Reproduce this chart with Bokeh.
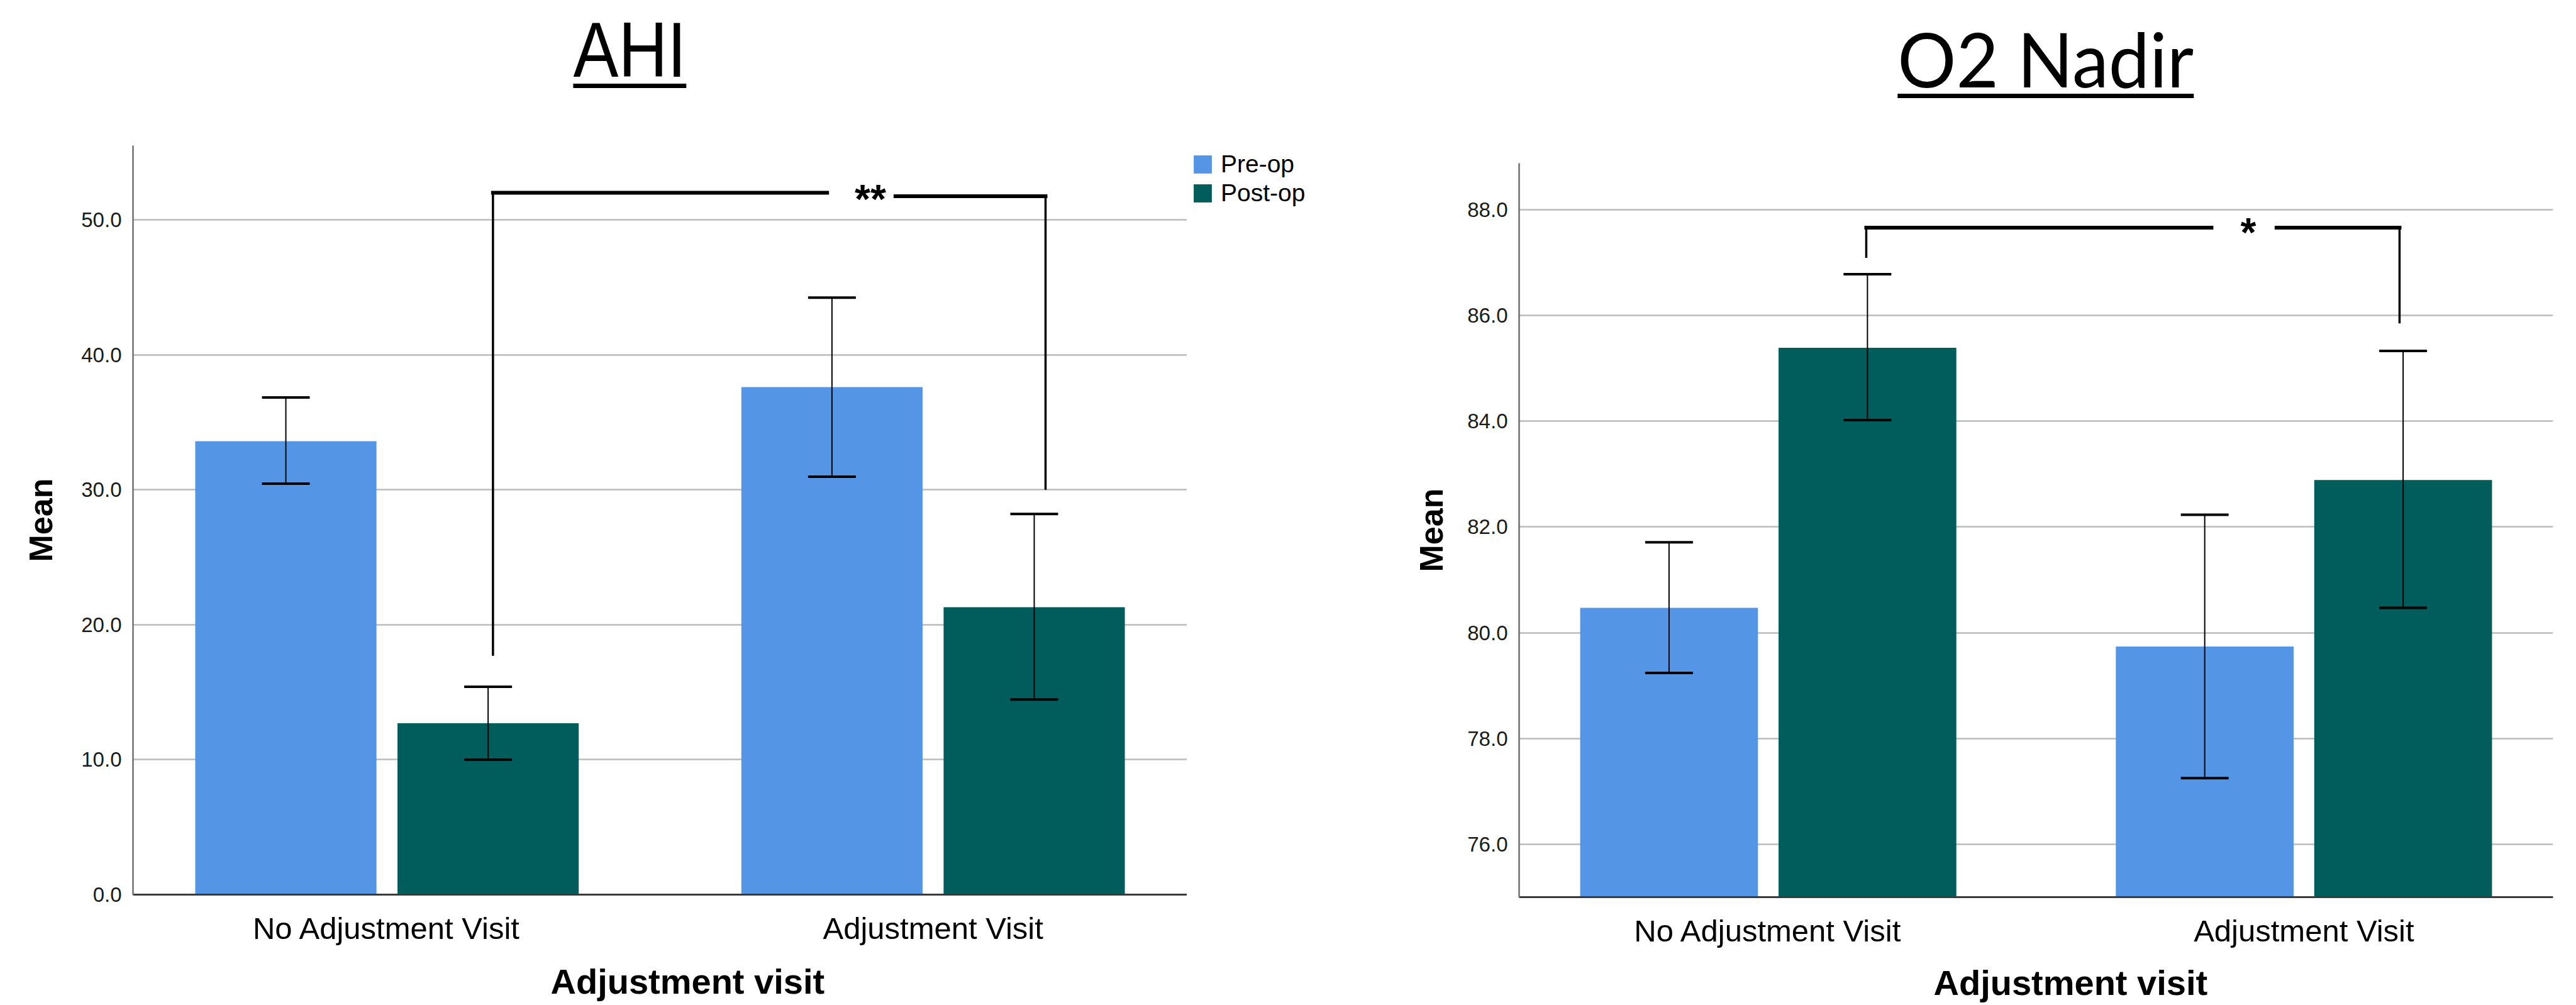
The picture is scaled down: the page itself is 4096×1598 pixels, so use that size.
from bokeh.plotting import figure
from bokeh.models import (FactorRange, Range1d, ColumnDataSource, Whisker, TeeHead,
                          Legend, LegendItem, FixedTicker, PrintfTickFormatter, Div, Title)
from bokeh.layouts import row, column
from bokeh.transform import dodge
from bokeh.embed import file_html
from bokeh.resources import INLINE
from bokeh.core.properties import value

# ---------------- data ----------------
categories = ["No Adjustment Visit", "Adjustment Visit"]
series = ["Pre-op", "Post-op"]

ahi_pre = [33.6, 37.6]
ahi_pre_lower = [30.45, 30.97]
ahi_pre_upper = [36.84, 44.24]
ahi_post = [12.7, 21.3]
ahi_post_lower = [10.0, 14.46]
ahi_post_upper = [15.4, 28.2]
ahi_ticks = [0, 10, 20, 30, 40, 50]

o2_pre = [80.47, 79.74]
o2_pre_lower = [79.24, 77.25]
o2_pre_upper = [81.71, 82.23]
o2_post = [85.39, 82.89]
o2_post_lower = [84.02, 80.47]
o2_post_upper = [86.78, 85.33]
o2_ticks = [76, 78, 80, 82, 84, 86, 88]

# significance brackets: left foot, left top, right top, right foot
ahi_sig = [17.7, 52.0, 51.75, 30.0]
ahi_sig_label = "**"
o2_sig = [87.09, 87.66, 87.66, 85.85]
o2_sig_label = "*"

BLUE = "#5595E5"
TEAL = "#015D5B"
FONT = "Liberation Sans"


def make_chart(pre, pre_lo, pre_hi, post, post_lo, post_hi, ticks, y0, y1,
               fw, fh, bl, br, bt, bb, sig, sig_label, sig_x, sig_tx,
               ylabel_standoff, xlabel_offset, xlabel_standoff):
    src = ColumnDataSource(dict(cat=categories, pre=pre, pre_lo=pre_lo, pre_hi=pre_hi,
                                post=post, post_lo=post_lo, post_hi=post_hi))
    p = figure(x_range=FactorRange(factors=categories, factor_padding=0.35, range_padding=0.1088),
               y_range=Range1d(y0, y1), frame_width=fw, frame_height=fh,
               min_border_left=bl, min_border_right=br, min_border_top=bt, min_border_bottom=bb,
               output_backend="svg", toolbar_location=None)
    p.background_fill_color = "white"
    p.border_fill_color = "white"
    p.outline_line_color = None

    p.vbar(x=dodge("cat", -0.25, range=p.x_range), top="pre", bottom=y0, width=0.448,
           source=src, fill_color=BLUE, line_color=None)
    p.vbar(x=dodge("cat", 0.25, range=p.x_range), top="post", bottom=y0, width=0.448,
           source=src, fill_color=TEAL, line_color=None)

    for key, off in (("pre", -0.25), ("post", 0.25)):
        w = Whisker(source=src, base=dodge("cat", off, range=p.x_range),
                    upper=key + "_hi", lower=key + "_lo",
                    line_color="black", line_width=2,
                    upper_head=TeeHead(size=76, line_width=4, line_color="black"),
                    lower_head=TeeHead(size=76, line_width=4, line_color="black"),
                    level="annotation")
        p.add_layout(w)

    # significance bracket
    A, B = categories
    oa, gl, gr, ob = sig_x
    fa, ta, tb, fb = sig
    vsrc = ColumnDataSource(dict(x0=[[A, oa], [B, ob]], y0=[fa, fb],
                                 x1=[[A, oa], [B, ob]], y1=[ta, tb]))
    p.segment(x0="x0", y0="y0", x1="x1", y1="y1", source=vsrc,
              line_color="black", line_width=3.5)
    hsrc = ColumnDataSource(dict(x0=[[A, oa], [B, gr]], y0=[ta, tb],
                                 x1=[[B, gl], [B, ob]], y1=[ta, tb]))
    p.segment(x0="x0", y0="y0", x1="x1", y1="y1", source=hsrc,
              line_color="black", line_width=6, line_cap="square")
    tsrc = ColumnDataSource(dict(x=[[B, sig_tx]], y=[(ta + tb) / 2], t=[sig_label]))
    p.text(x="x", y="y", text="t", source=tsrc, text_font=value(FONT),
           text_font_style="bold", text_font_size="64px", text_align="center",
           text_baseline="alphabetic", y_offset=8, text_color="black")

    # axes
    p.xgrid.grid_line_color = None
    p.ygrid.grid_line_color = "#bcbcbc"
    p.ygrid.grid_line_width = 2.5

    xa = p.xaxis[0]
    xa.major_tick_line_color = None
    xa.minor_tick_line_color = None
    xa.major_tick_out = 0
    xa.major_tick_in = 0
    xa.axis_line_color = "#3a3a3a"
    xa.axis_line_width = 3
    xa.major_label_text_font = FONT
    xa.major_label_text_font_size = "49px"
    xa.major_label_text_color = "black"
    xa.major_label_standoff = 26

    p.add_layout(Title(text="Adjustment visit", align="left", offset=xlabel_offset,
                       standoff=xlabel_standoff, vertical_align="bottom",
                       text_font=FONT, text_font_style="bold", text_font_size="56px",
                       text_color="black"), "below")

    ya = p.yaxis[0]
    ya.ticker = FixedTicker(ticks=ticks)
    ya.formatter = PrintfTickFormatter(format="%.1f")
    ya.major_tick_line_color = None
    ya.minor_tick_line_color = None
    ya.major_tick_out = 0
    ya.major_tick_in = 0
    ya.axis_line_color = "#707070"
    ya.axis_line_width = 2.5
    ya.major_label_text_font = FONT
    ya.major_label_text_font_size = "33px"
    ya.major_label_text_color = "#1a1a1a"
    ya.major_label_standoff = 18
    ya.axis_label = "Mean"
    ya.axis_label_text_font = FONT
    ya.axis_label_text_font_style = "bold"
    ya.axis_label_text_font_size = "52px"
    ya.axis_label_text_color = "black"
    ya.axis_label_standoff = ylabel_standoff
    return p


left = make_chart(ahi_pre, ahi_pre_lower, ahi_pre_upper, ahi_post, ahi_post_lower,
                  ahi_post_upper, ahi_ticks, 0, 55.5, 1676, 1191, 211, 0, 63, 160,
                  ahi_sig, ahi_sig_label, (0.262, -0.262, -0.093, 0.278), -0.155,
                  32, 664, 42)
right = make_chart(o2_pre, o2_pre_lower, o2_pre_upper, o2_post, o2_post_lower,
                   o2_post_upper, o2_ticks, 75, 88.88, 1644, 1167, 268, 19, 91, 156,
                   o2_sig, o2_sig_label, (0.247, -0.233, -0.069, 0.241), -0.14,
                   25, 659, 38)

# legend panel (beside the AHI chart); its swatch bars sit outside the visible range
lg = figure(width=260, height=1414, x_range=Range1d(0, 1), y_range=Range1d(0, 1),
            min_border_left=0, min_border_top=63, min_border_right=0, min_border_bottom=0,
            x_axis_location=None, y_axis_location=None,
            output_backend="svg", toolbar_location=None)
lg.grid.visible = False
lg.outline_line_color = None
lsrc = ColumnDataSource(dict(x=[5.0], top=[5.0]))
lr_pre = lg.vbar(x="x", top="top", bottom=4.0, width=0.1, source=lsrc,
                 fill_color=BLUE, line_color=None)
lr_post = lg.vbar(x="x", top="top", bottom=4.0, width=0.1, source=lsrc,
                  fill_color=TEAL, line_color=None)
legend = Legend(items=[LegendItem(label=series[0], renderers=[lr_pre]),
                       LegendItem(label=series[1], renderers=[lr_post])],
                location="top_left", orientation="vertical",
                margin=7, padding=0, spacing=0,
                glyph_width=36, glyph_height=36, label_height=46, label_standoff=11,
                label_text_font=FONT, label_text_font_size="39px",
                label_text_color="black",
                border_line_color=None, background_fill_alpha=0)
lg.add_layout(legend)


def title_div(text, width, cx, top, font, size, thick, offset, sx):
    html = (
        f'<div style="position:absolute;left:{cx - 500}px;top:{top}px;width:1000px;'
        f'text-align:center;white-space:nowrap;">'
        f'<span style="display:inline-block;transform:scaleX({sx});">'
        f'<span style="font-family:\'{font}\';font-size:{size}px;line-height:{size}px;color:#000;'
        f'text-decoration:underline;text-decoration-thickness:{thick}px;'
        f'text-underline-offset:{offset}px;text-decoration-skip-ink:none;">{text}</span></span></div>'
    )
    return Div(text=html, width=width, height=168, margin=0)


t_left = title_div("AHI", 2147, 1001, 17, "Liberation Sans", 124, 7, 11, 0.87)
t_right = title_div("O2 Nadir", 1931, 1106, 33, "Lato", 120, 7, 10, 0.97)

layout = row(column(t_left, row(left, lg, spacing=0, margin=0), spacing=0, margin=0),
             column(t_right, right, spacing=0, margin=0), spacing=0, margin=0)

open("out.html", "w").write(file_html(layout, INLINE))
